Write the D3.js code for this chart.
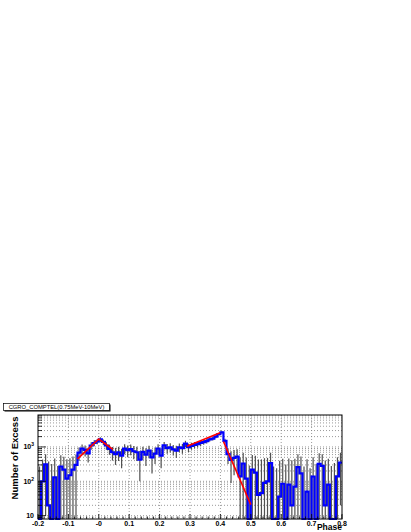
<!DOCTYPE html>
<html>
<head>
<meta charset="utf-8">
<script src="https://cdn.jsdelivr.net/npm/d3@7"></script>
<style>
body { margin: 0; background: #fff; }
svg { display: block; font-family: "Liberation Sans", Arial, sans-serif; }
</style>
</head>
<body>
<div id="chart"></div>
<script>
var width = 411, height = 532;

// histogram: 100 bins of 0.01 in phase, starting at -0.2
var binStart = -0.2, binWidth = 0.01;

var counts = [
  -150, 100, 310, 20, -100, 130, -120, 270, 220, 120,
  150, 220, 300, 680, 900, 820, 650, 1100, 1300, 1450,
  1650, 1400, 1100, 880, 700, 620, 700, 560, 900, 800,
  870, 750, 700, 430, 720, 600, 780, 500, 640, 900,
  560, 1120, 920, 980, 850, 780, 980, 920, 1250, 980,
  1080, 1150, 1200, 1300, 1380, 1480, 1650, 1750, 2000, 2350,
  2650, 1500, 620, 420, 480, 520, 140, 330, 120, -100,
  220, 180, 40, 45, 90, 100, 340, -150, -200, 36,
  85, -100, 80, 20, 70, 260, 170, -150, 50, -200,
  138, -100, 320, 280, 20, 80, -120, -80, 140, 350
];

var errors = [
  420, 330, 300, 360, 420, 330, 400, 300, 300, 320,
  320, 310, 300, 290, 280, 290, 300, 270, 260, 250,
  250, 260, 270, 290, 300, 320, 310, 320, 290, 300,
  300, 310, 310, 330, 300, 320, 310, 330, 320, 300,
  320, 280, 290, 290, 290, 300, 280, 290, 260, 270,
  250, 240, 240, 230, 230, 220, 210, 210, 200, 200,
  200, 240, 300, 330, 330, 330, 360, 350, 370, 390,
  360, 370, 390, 390, 380, 380, 340, 420, 440, 360,
  370, 410, 380, 390, 380, 350, 360, 420, 390, 440,
  360, 420, 330, 330, 380, 370, 400, 420, 360, 330
];

// fitted light curve pieces: [phase, counts]
var fitRise1 = [[-0.07, 450], [0.0, 1700], [0.046, 850]];
var fitRise2 = [[0.29, 1050], [0.399, 2600]];
var fitFall = [[0.41, 1440], [0.5, 21]];

var xTickValues = [-0.2, -0.1, 0, 0.1, 0.2, 0.3, 0.4, 0.5, 0.6, 0.7, 0.8];
var xTickLabels = ["-0.2", "-0.1", "-0", "0.1", "0.2", "0.3", "0.4", "0.5", "0.6", "0.7", "0.8"];
var yTickValues = [10, 100, 1000];
var yTickExp = ["", "2", "3"];

var title = "CGRO_COMPTEL(0.75MeV-10MeV)";

var margin = {left: 38, right: 342, top: 415, bottom: 519};

var svg = d3.select("#chart").append("svg")
    .attr("width", width)
    .attr("height", height);

var x = d3.scaleLinear().domain([-0.2, 0.8]).range([margin.left, margin.right]);
var y = d3.scaleLog().domain([8, 8500]).range([margin.bottom, margin.top]).clamp(true);

function yv(v) {
    return v > 0 ? y(v) : margin.bottom;
}

// grid
var grid = svg.append("g")
    .attr("stroke", "#808080")
    .attr("stroke-width", 0.8)
    .attr("stroke-dasharray", "1,2");

grid.selectAll("line.vx")
    .data(xTickValues.slice(1, -1))
    .enter().append("line")
    .attr("x1", function (d) { return x(d); })
    .attr("x2", function (d) { return x(d); })
    .attr("y1", margin.top)
    .attr("y2", margin.bottom);

var yMinor = y.ticks().filter(function (d) { return d > 8 && d < 8500; });
grid.selectAll("line.hy")
    .data(yMinor)
    .enter().append("line")
    .attr("x1", margin.left)
    .attr("x2", margin.right)
    .attr("y1", function (d) { return y(d); })
    .attr("y2", function (d) { return y(d); });

// error bars
var bins = counts.map(function (c, i) {
    return {x0: binStart + i * binWidth, x1: binStart + (i + 1) * binWidth, v: c, e: errors[i]};
});

svg.append("g")
    .attr("stroke", "#505050")
    .attr("stroke-width", 1.2)
    .selectAll("line")
    .data(bins.filter(function (d) { return d.v + d.e > 8; }))
    .enter().append("line")
    .attr("x1", function (d) { return x((d.x0 + d.x1) / 2); })
    .attr("x2", function (d) { return x((d.x0 + d.x1) / 2); })
    .attr("y1", function (d) { return yv(d.v - d.e); })
    .attr("y2", function (d) { return yv(d.v + d.e); });

// histogram outline
var p = "M" + x(bins[0].x0) + "," + yv(bins[0].v);
bins.forEach(function (d, i) {
    if (i > 0) p += "V" + yv(d.v);
    p += "H" + x(d.x1);
});
svg.append("path")
    .attr("d", p)
    .attr("fill", "none")
    .attr("stroke", "#0000ff")
    .attr("stroke-width", 2.2);

// fits
var fitLine = d3.line()
    .x(function (d) { return x(d[0]); })
    .y(function (d) { return y(d[1]); });

svg.selectAll("path.fit")
    .data([fitRise1, fitRise2, fitFall])
    .enter().append("path")
    .attr("class", "fit")
    .attr("d", fitLine)
    .attr("fill", "none")
    .attr("stroke", "#ff0000")
    .attr("stroke-width", 1.6);

// frame
svg.append("rect")
    .attr("x", margin.left)
    .attr("y", margin.top)
    .attr("width", margin.right - margin.left)
    .attr("height", margin.bottom - margin.top)
    .attr("fill", "none")
    .attr("stroke", "#000")
    .attr("stroke-width", 1);

// x ticks
var xMinor = d3.range(0, 51).map(function (i) { return -0.2 + i * 0.02; });
svg.append("g").selectAll("line")
    .data(xMinor)
    .enter().append("line")
    .attr("x1", function (d) { return x(d); })
    .attr("x2", function (d) { return x(d); })
    .attr("y1", margin.bottom)
    .attr("y2", function (d, i) { return margin.bottom - (i % 5 === 0 ? 5 : 2.5); })
    .attr("stroke", "#000")
    .attr("stroke-width", 0.8);

svg.append("g").selectAll("text")
    .data(xTickValues)
    .enter().append("text")
    .attr("x", function (d) { return x(d); })
    .attr("y", 526)
    .attr("text-anchor", "middle")
    .attr("font-size", "7px")
    .attr("font-weight", "bold")
    .text(function (d, i) { return xTickLabels[i]; });

// y ticks
var yAll = y.ticks().concat([9]).filter(function (d) { return d > 8 && d < 8500; });
svg.append("g").selectAll("line")
    .data(yAll)
    .enter().append("line")
    .attr("x1", margin.left)
    .attr("x2", function (d) { return margin.left + (yTickValues.indexOf(d) >= 0 ? 8 : 4); })
    .attr("y1", function (d) { return y(d); })
    .attr("y2", function (d) { return y(d); })
    .attr("stroke", "#000")
    .attr("stroke-width", 0.8);

var yl = svg.append("g").selectAll("text")
    .data(yTickValues)
    .enter().append("text")
    .attr("x", 34)
    .attr("y", function (d) { return y(d) + 2.5; })
    .attr("text-anchor", "end")
    .attr("font-size", "7px")
    .attr("font-weight", "bold");
yl.append("tspan").text("10");
yl.append("tspan")
    .attr("dy", -3)
    .attr("font-size", "5px")
    .text(function (d, i) { return yTickExp[i]; });

// axis titles
svg.append("text")
    .attr("transform", "translate(18,458) rotate(-90)")
    .attr("text-anchor", "middle")
    .attr("font-size", "9.5px")
    .attr("font-weight", "bold")
    .text("Number of Excess");

svg.append("text")
    .attr("x", 342)
    .attr("y", 530)
    .attr("text-anchor", "end")
    .attr("font-size", "8.5px")
    .attr("font-weight", "bold")
    .text("Phase");

// title box
svg.append("rect")
    .attr("x", 4.5).attr("y", 404.5)
    .attr("width", 106).attr("height", 7)
    .attr("fill", "#000");
svg.append("rect")
    .attr("x", 3.5).attr("y", 403.5)
    .attr("width", 106).attr("height", 7)
    .attr("fill", "#fff")
    .attr("stroke", "#000")
    .attr("stroke-width", 0.7);
svg.append("text")
    .attr("x", 56.5)
    .attr("y", 409.3)
    .attr("text-anchor", "middle")
    .attr("font-size", "5.8px")
    .text(title);
</script>
</body>
</html>
